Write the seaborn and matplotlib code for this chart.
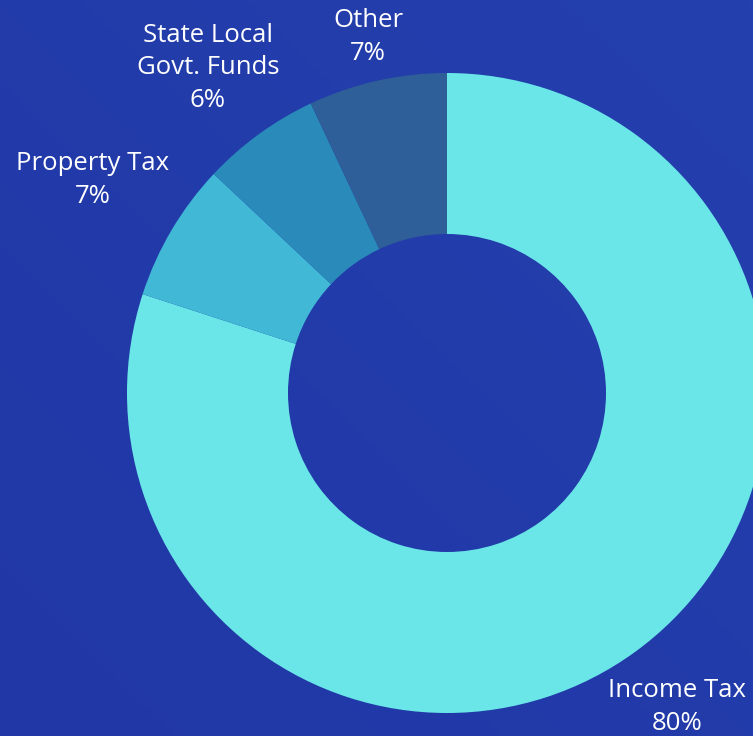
import matplotlib
matplotlib.use("Agg")
import matplotlib.pyplot as plt
import seaborn as sns
import numpy as np
from matplotlib.colors import LinearSegmentedColormap

categories = ["Income Tax", "Property Tax", "State Local\nGovt. Funds", "Other"]
values = [80, 7, 6, 7]
pct_labels = ["80%", "7%", "6%", "7%"]
colors = ["#6ae6e8", "#40b8d6", "#2a8aba", "#2e5f98"]

sns.set_theme(style="white")
plt.rcParams['font.family'] = ['Open Sans', 'DejaVu Sans']

BG = "#2238a8"
W, H = 753, 736
fig = plt.figure(figsize=(W / 100, H / 100), dpi=100, facecolor=BG)
ax = fig.add_axes([0, 0, 1, 1])
ax.set_facecolor(BG)

# subtle background gradient (lighter toward top-right)
yy, xx = np.mgrid[0:1:200j, 0:1:200j]
grad = (xx * 0.5 + yy * 0.5)
cmap = LinearSegmentedColormap.from_list("bg", ["#2137a6", "#2440ae"])
ax.imshow(grad, extent=[0, W, 0, H], origin="lower", cmap=cmap, zorder=0, aspect="auto")

cx, cy, R = 447, H - 393, 320
wedges, _ = ax.pie(values, colors=colors, startangle=90, counterclock=False,
                   center=(cx, cy), radius=R,
                   wedgeprops=dict(width=R - 159, edgecolor="none", linewidth=0))
for w in wedges:
    w.set_zorder(2)

ax.set_xlim(0, W)
ax.set_ylim(0, H)
ax.set_aspect("auto")
ax.axis("off")

label_pos = [(677, H - 707), (93, H - 180), (208, H - 68), (368, H - 37)]
for cat, pct, (x, y) in zip(categories, pct_labels, label_pos):
    ax.text(x, y, f"{cat}\n{pct}", ha="center", va="center", color="white",
            fontsize=18.5, linespacing=1.38, zorder=3)

fig.savefig("out.png", dpi=100, facecolor=BG)
